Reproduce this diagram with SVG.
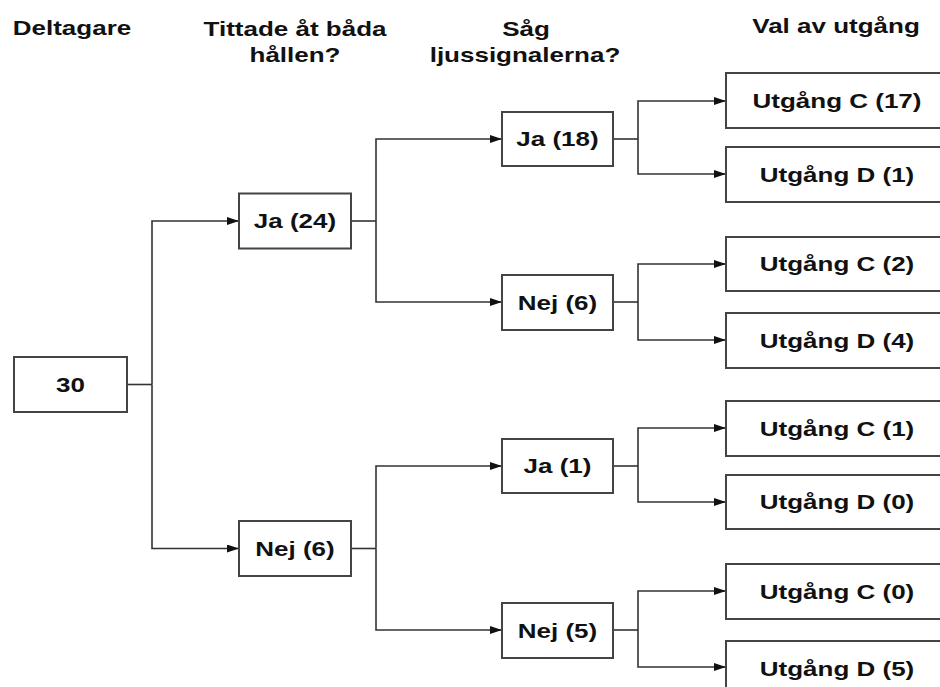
<svg xmlns="http://www.w3.org/2000/svg" width="940" height="687" viewBox="0 0 940 687">
<defs>
<marker id="ah" markerWidth="12" markerHeight="8" refX="12" refY="4" orient="auto" markerUnits="userSpaceOnUse">
<path d="M0,0 L12,4 L0,8 Z" fill="#111"/>
</marker>
<style>
.box{fill:#fff;stroke:#444;stroke-width:2}
.t{font-family:"Liberation Sans",Arial,sans-serif;font-weight:bold;font-size:20px;fill:#111;text-anchor:middle}
.conn path{fill:none;stroke:#333;stroke-width:1.6}
.arr{marker-end:url(#ah)}
</style>
</defs>
<rect width="940" height="687" fill="#fff"/>
<g id="headers">
<text class="t" transform="translate(72,35) scale(1.3,1)">Deltagare</text>
<text class="t" transform="translate(295,36) scale(1.3,1)">Tittade åt båda</text>
<text class="t" transform="translate(295,62) scale(1.3,1)">hållen?</text>
<text class="t" transform="translate(526,36) scale(1.3,1)">Såg</text>
<text class="t" transform="translate(525,62) scale(1.3,1)">ljussignalerna?</text>
<text class="t" transform="translate(836,33) scale(1.3,1)">Val av utgång</text>
</g>
<g class="conn" id="connectors">
<path d="M127,384.5 H152"/>
<path class="arr" d="M152,384.5 V221 H239"/>
<path class="arr" d="M152,384.5 V548.5 H239"/>
<path d="M351,221 H376"/>
<path class="arr" d="M376,221 V139 H502"/>
<path class="arr" d="M376,221 V302 H502"/>
<path d="M351,548.5 H376"/>
<path class="arr" d="M376,548.5 V466 H502"/>
<path class="arr" d="M376,548.5 V630 H502"/>
<path d="M613,139 H638"/>
<path class="arr" d="M638,139 V101 H726"/>
<path class="arr" d="M638,139 V174 H726"/>
<path d="M613,302 H638"/>
<path class="arr" d="M638,302 V264 H726"/>
<path class="arr" d="M638,302 V340 H726"/>
<path d="M613,466 H638"/>
<path class="arr" d="M638,466 V428 H726"/>
<path class="arr" d="M638,466 V502 H726"/>
<path d="M613,630 H638"/>
<path class="arr" d="M638,630 V591 H726"/>
<path class="arr" d="M638,630 V667 H726"/>
</g>
<g id="n30"><rect class="box" x="14" y="357" width="113" height="55"/><text class="t" transform="translate(70.5,392) scale(1.3,1)">30</text></g>
<g id="ja24"><rect class="box" x="239" y="193.5" width="112" height="55"/><text class="t" transform="translate(295,228) scale(1.3,1)">Ja (24)</text></g>
<g id="nej6a"><rect class="box" x="239" y="521" width="112" height="55"/><text class="t" transform="translate(295,556) scale(1.3,1)">Nej (6)</text></g>
<g id="ja18"><rect class="box" x="502" y="112" width="111" height="54"/><text class="t" transform="translate(557.5,146) scale(1.3,1)">Ja (18)</text></g>
<g id="nej6b"><rect class="box" x="502" y="275" width="111" height="55"/><text class="t" transform="translate(557.5,309.5) scale(1.3,1)">Nej (6)</text></g>
<g id="ja1"><rect class="box" x="502" y="439" width="111" height="54"/><text class="t" transform="translate(557.5,473) scale(1.3,1)">Ja (1)</text></g>
<g id="nej5"><rect class="box" x="502" y="603" width="111" height="55"/><text class="t" transform="translate(557.5,637.5) scale(1.3,1)">Nej (5)</text></g>
<g id="c17"><rect class="box" x="726" y="73" width="230" height="55"/><text class="t" transform="translate(837,108) scale(1.3,1)">Utgång C (17)</text></g>
<g id="d1"><rect class="box" x="726" y="147" width="230" height="55"/><text class="t" transform="translate(837,182) scale(1.3,1)">Utgång D (1)</text></g>
<g id="c2"><rect class="box" x="726" y="237" width="230" height="54"/><text class="t" transform="translate(837,271) scale(1.3,1)">Utgång C (2)</text></g>
<g id="d4"><rect class="box" x="726" y="313" width="230" height="55"/><text class="t" transform="translate(837,348) scale(1.3,1)">Utgång D (4)</text></g>
<g id="c1"><rect class="box" x="726" y="401" width="230" height="55"/><text class="t" transform="translate(837,436) scale(1.3,1)">Utgång C (1)</text></g>
<g id="d0"><rect class="box" x="726" y="475" width="230" height="54"/><text class="t" transform="translate(837,509) scale(1.3,1)">Utgång D (0)</text></g>
<g id="c0"><rect class="box" x="726" y="564" width="230" height="55"/><text class="t" transform="translate(837,599) scale(1.3,1)">Utgång C (0)</text></g>
<g id="d5"><rect class="box" x="726" y="641" width="230" height="55"/><text class="t" transform="translate(837,676) scale(1.3,1)">Utgång D (5)</text></g>
</svg>
